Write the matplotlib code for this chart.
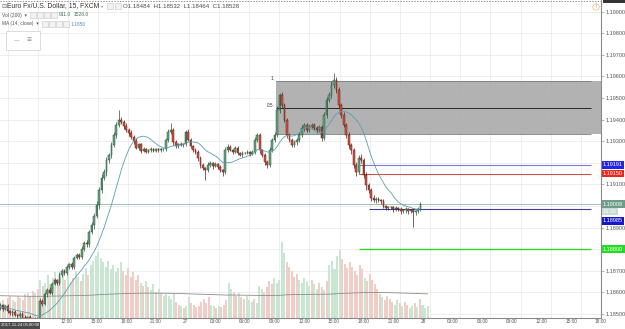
import matplotlib
matplotlib.use("Agg")
import matplotlib.pyplot as plt
import matplotlib.transforms as mtransforms
from matplotlib.patches import Rectangle
import numpy as np
import pandas as pd

plt.rcParams['font.family'] = ['Liberation Sans', 'DejaVu Sans']

# 15 min bars, EUR/USD (FXCM), Fri 24 Nov 05:00 -> Mon 27 Nov 23:45
open0 = 1.18484
closes = [
    1.18528, 1.18540, 1.18522, 1.18535, 1.18515, 1.18502, 1.18510, 1.18495, 1.18488, 1.18500,
    1.18482, 1.18475, 1.18486, 1.18470, 1.18462, 1.18478, 1.18470,
    1.18560, 1.18548, 1.18590, 1.18612, 1.18598, 1.18640, 1.18655, 1.18642, 1.18680, 1.18700,
    1.18690, 1.18715, 1.18730, 1.18718, 1.18760, 1.18772, 1.18765, 1.18800, 1.18830, 1.18822,
    1.18880, 1.18910, 1.18955,
    1.19005, 1.19074, 1.19130, 1.19157, 1.19213, 1.19236, 1.19282, 1.19329, 1.19375, 1.19398,
    1.19389, 1.19370, 1.19352, 1.19338, 1.19319,
    1.19300, 1.19270, 1.19285, 1.19255, 1.19262, 1.19250, 1.19258, 1.19262, 1.19255, 1.19262,
    1.19258, 1.19262, 1.19265,
    1.19306, 1.19343, 1.19352, 1.19296, 1.19278, 1.19287, 1.19282, 1.19287, 1.19343, 1.19306,
    1.19278, 1.19259, 1.19250, 1.19222, 1.19190, 1.19176, 1.19167, 1.19190, 1.19199, 1.19185,
    1.19194, 1.19181, 1.19167, 1.19157,
    1.19259, 1.19273, 1.19259, 1.19250, 1.19269, 1.19245, 1.19236, 1.19245, 1.19245, 1.19250,
    1.19241, 1.19250, 1.19306, 1.19329, 1.19259, 1.19236, 1.19204, 1.19190, 1.19259, 1.19306,
    1.19329,
    1.19444, 1.19514, 1.19468, 1.19398, 1.19329, 1.19306, 1.19282, 1.19296, 1.19306, 1.19329,
    1.19361, 1.19375, 1.19352, 1.19366, 1.19375, 1.19361, 1.19352, 1.19366, 1.19315,
    1.19421, 1.19491, 1.19514, 1.19560, 1.19583, 1.19537, 1.19468, 1.19421, 1.19375, 1.19329,
    1.19282, 1.19259, 1.19190, 1.19157, 1.19222, 1.19213, 1.19144, 1.19097, 1.19074, 1.19037,
    1.19028, 1.19032, 1.19028, 1.19023, 1.19000, 1.18991, 1.18995, 1.18995, 1.18986, 1.18991,
    1.18986, 1.18977, 1.18981, 1.18986, 1.18977, 1.18981, 1.18972, 1.18977, 1.18986, 1.19008,
]
# wick sizes in points (0.00001)
up_wick = [
    4, 10, 8, 6, 12, 5, 8, 10, 6, 9,
    7, 12, 5, 8, 10, 6, 9, 12, 8, 10,
    6, 14, 8, 10, 7, 12, 9, 6, 11, 8,
    10, 7, 12, 9, 14, 8, 11, 10, 15, 12,
    18, 14, 20, 12, 15, 10, 16, 12, 14, 46,
    12, 10, 15, 8, 12, 10, 14, 8, 6, 10,
    8, 6, 9, 5, 7, 6, 8, 5, 10, 12,
    32, 8, 10, 6, 8, 5, 10, 12, 8, 6,
    9, 7, 10, 8, 6, 12, 8, 6, 9, 7,
    8, 6, 14, 12, 8, 6, 10, 7, 6, 8,
    5, 7, 6, 8, 14, 10, 8, 6, 9, 7,
    12, 10, 14, 18, 10, 12, 8, 10, 7, 9,
    8, 10, 12, 14, 10, 8, 12, 9, 10, 8,
    10, 8, 14, 16, 12, 18, 33, 15, 12, 10,
    14, 10, 12, 8, 10, 12, 16, 18, 10, 12,
    8, 10, 12, 8, 10, 6, 8, 5, 7, 6,
    5, 7, 6, 8, 5, 7, 6, 5, 8, 6,
    7, 12,
]
low_wick = [
    20, 8, 10, 6, 12, 8, 10, 7, 12, 9,
    8, 10, 6, 12, 9, 8, 10, 7, 12, 8,
    10, 8, 12, 6, 9, 10, 7, 8, 12, 9,
    8, 10, 7, 12, 9, 8, 14, 10, 12, 15,
    12, 18, 14, 10, 16, 12, 14, 10, 12, 8,
    10, 12, 8, 14, 10, 12, 8, 10, 12, 6,
    7, 5, 8, 6, 5, 7, 6, 8, 10, 8,
    10, 12, 8, 10, 6, 8, 10, 7, 9, 8,
    10, 12, 14, 10, 47, 10, 8, 12, 6, 10,
    12, 20, 10, 8, 6, 10, 7, 9, 6, 8,
    6, 5, 8, 6, 8, 10, 12, 10, 14, 16,
    10, 8, 12, 10, 14, 12, 10, 12, 10, 8,
    10, 12, 8, 10, 12, 10, 8, 9, 10, 12,
    8, 14, 10, 12, 10, 14, 12, 16, 14, 12,
    10, 16, 14, 18, 12, 20, 10, 14, 16, 22,
    14, 12, 10, 14, 8, 12, 10, 8, 12, 10,
    12, 8, 10, 14, 10, 12, 16, 10, 70, 12,
    8, 10,
]
volumes = [
    911, 1100, 1250, 980, 1350, 1500, 1220, 1100, 1480, 1360, 1240, 1600, 1720, 1480, 1850, 1700, 1950,
    2600, 2200, 2400, 2900, 2300, 2700, 3100, 2500, 2800, 3300, 2600, 3000, 2400, 2700, 3200, 2800,
    2500, 3000, 3400, 2900, 3600, 3900, 4200,
    4500, 4100, 3800, 3500, 3900, 3300, 3600, 3100, 3400, 3800,
    3200, 2900, 3400, 2800, 3100, 2600, 2900, 2400, 2200, 2500, 2100, 1900, 2300, 1800, 2000, 1700, 1500, 1600,
    1500, 1300, 1600, 1100, 900, 800, 700, 850, 1400, 1000, 900, 750, 800, 1100, 1300, 1000, 1400, 900,
    800, 700, 850, 750, 900, 1200,
    2400, 2000, 1800, 1500, 1700, 1400, 1300, 1500, 1200, 1100, 1300, 1000, 2200, 2000, 1800, 2100,
    2500, 2300, 2700, 2400, 2600,
    5200, 4400, 3800, 3500, 3200, 2800, 3000, 2600, 2400, 2700, 2500, 2200, 2600, 2300, 2000, 2400,
    2100, 1900, 2500,
    3600, 3900, 3300, 4200, 4600, 4000, 3700, 3400, 3800, 3500, 3200, 2900, 3600, 3300, 2700, 2500,
    3000, 2600, 2300, 2000,
    1600, 1400, 1200, 1500, 1300, 1100, 900, 1200, 1000, 800, 1100, 900, 700, 850, 1000, 750,
    1300, 900, 650, 800,
]
vol_ma_first = 1528.0
vol_prior = 2050.0   # rough level of the bars leaving the 200-bar window

# drawn levels
fib_top, fib_mid, fib_bottom = 1.19579, 1.19456, 1.19333
level_blue, level_red, level_navy, level_green = 1.19191, 1.19150, 1.18985, 1.18800

n = len(closes)
assert len(up_wick) == n and len(low_wick) == n and len(volumes) == n

t_fri = pd.date_range("2017-11-24 05:00", "2017-11-24 21:45", freq="15min")
t_mon = pd.date_range("2017-11-26 22:00", "2017-11-27 23:45", freq="15min")
t_fut = pd.date_range("2017-11-28 00:00", periods=80, freq="15min")
times = t_fri.append(t_mon).append(t_fut)

closes = np.array(closes)
opens = np.concatenate([[open0], closes[:-1]])
highs = np.maximum(opens, closes) + np.array(up_wick) * 1e-5
lows = np.minimum(opens, closes) - np.array(low_wick) * 1e-5
idx = np.arange(n)
up = closes >= opens
ma14 = pd.Series(closes).rolling(14, min_periods=1).mean()
vols = np.array(volumes, dtype=float)
vol_ma = vol_ma_first + np.cumsum(vols - vol_prior) / 200.0

W, H = 625, 329
fig = plt.figure(figsize=(W / 100, H / 100), dpi=100)
fig.patch.set_facecolor('white')
rect = [0, 11 / H, 601 / W, 318 / H]
axv = fig.add_axes(rect)
ax = fig.add_axes(rect)
ax.patch.set_visible(False)

ymin, ymax = 1.18481, 1.19954
xmin, xmax = 0.95, 240.0
ax.set_xlim(xmin, xmax)
axv.set_xlim(xmin, xmax)
ax.set_ylim(ymin, ymax)
axv.set_ylim(0, 68 * 318)

# time ticks (the two morning labels sit under the crosshair date box)
tick_pos, tick_lab = [], []
for i, t in enumerate(times):
    if t.minute == 0 and t.hour % 3 == 0:
        tick_pos.append(i)
        if i < 20:
            tick_lab.append("")
        else:
            tick_lab.append(str(t.day) if t.hour == 0 else t.strftime("%H:%M"))
price_ticks = np.round(np.arange(1.185, 1.1996, 0.001), 5)

# grid (under everything)
grid_c = '#ebebeb'
for p in tick_pos:
    axv.axvline(p, color=grid_c, lw=0.6, zorder=0)
btr = mtransforms.blended_transform_factory(axv.transAxes, ax.transData)
for p in price_ticks:
    axv.plot([0, 1], [p, p], transform=btr, color=grid_c, lw=0.6, zorder=0)

# volume
vcol = np.where(up, '#c9e6d3', '#f1cdc8')
axv.bar(idx, vols, width=0.8, color=vcol, linewidth=0, zorder=1)
axv.plot(idx, vol_ma, color='#8c8c8c', lw=0.6, zorder=2)
axv.tick_params(left=False, bottom=False, labelleft=False, labelbottom=False)
for s in axv.spines.values():
    s.set_visible(False)

# fib retracement box
ax.add_patch(Rectangle((112.6, fib_bottom), 200, fib_top - fib_bottom,
                       facecolor='#aaaaaa', edgecolor='none', alpha=0.9, zorder=1))
ax.hlines([fib_top, fib_bottom], 112.6, xmax, color='#7c7c7c', lw=0.6, zorder=1.5)
ax.hlines(fib_mid, 112.6, xmax, color='#262626', lw=0.7, zorder=1.5)
ax.text(111.5, fib_top, "1", fontsize=3.4, color='#333333', ha='right', va='bottom', zorder=5)
ax.text(111.5, fib_mid, "0.5", fontsize=3.4, color='#333333', ha='right', va='bottom', zorder=5)

# candles
up_body, up_edge = '#6ba583', '#225437'
dn_body, dn_edge = '#d75442', '#5b1a13'
edge = np.where(up, up_edge, dn_edge)
ax.vlines(idx, lows, highs, colors=edge, lw=0.5, zorder=3)
body_h = np.maximum(np.abs(closes - opens), 0.000015)
ax.bar(idx, body_h, bottom=np.minimum(opens, closes), width=0.7,
       color=np.where(up, up_body, dn_body), edgecolor=edge, linewidth=0.35, zorder=4)
ax.plot(idx, ma14, color='#5c9db2', lw=0.6, zorder=5)

# horizontal levels
last = closes[-1]
ax.axhline(last, color='#8fb8a6', lw=0.6, zorder=2)
ax.hlines(level_blue, 146, xmax, color='#7b7bd9', lw=0.8, zorder=2)
ax.hlines(level_red, 146, xmax, color='#c9504a', lw=0.8, zorder=2)
ax.hlines(level_navy, 150, xmax, color='#3b3ba0', lw=0.8, zorder=2)
ax.hlines(level_green, 146, xmax, color='#2fd42f', lw=1.0, zorder=2)
ax.axhline(ymax - 0.00003, color='#666666', lw=0.5, ls=(0, (2, 2)), zorder=6)

# axes styling; scale labels hidden under the coloured price boxes are left blank
covered = {1.192, 1.190, 1.188}
ax.yaxis.tick_right()
ax.set_yticks(price_ticks)
ax.set_yticklabels(["" if round(p, 3) in covered else f"{p:.5f}" for p in price_ticks])
ax.tick_params(axis='y', length=2, width=0.5, color='#9a9a9a', labelsize=4,
               labelcolor='#555555', pad=1)
ax.set_xticks(tick_pos)
ax.set_xticklabels(tick_lab)
ax.tick_params(axis='x', length=0, labelsize=3.4, labelcolor='#555555', pad=0.6)
for k in ['top', 'left']:
    ax.spines[k].set_visible(False)
ax.spines['right'].set_color('#8a8a8a')
ax.spines['right'].set_linewidth(0.8)
ax.spines['bottom'].set_color('#8a8a8a')
ax.spines['bottom'].set_linewidth(0.8)

# price labels on the scale
ltr = mtransforms.blended_transform_factory(ax.transAxes, ax.transData)
def scale_label(price, text, bg, fg='white', dy=0):
    ax.annotate(text, xy=(1.0, price), xycoords=ltr, xytext=(1.5, dy), textcoords='offset points',
                fontsize=4, color=fg, ha='left', va='center', annotation_clip=False, zorder=10,
                bbox=dict(boxstyle='square,pad=0.25', fc=bg, ec='none'))

scale_label(level_blue, f"{level_blue:.5f}", '#2424e8')
scale_label(level_red, f"{level_red:.5f}", '#e8281d')
scale_label(last, f"{last:.5f}", '#6e9c88')
scale_label(last, "13:35", '#c6dbd1', dy=-5.2)
scale_label(level_navy, f"{level_navy:.5f}", '#1717c9', dy=-8.5)
scale_label(level_green, f"{level_green:.5f}", '#22dd22')

# header / legend
def px(x, y):
    return x / W, 1 - y / H

# crosshair price tag at the top of the scale (only its lower edge shows)
fig.patches.append(Rectangle(px(603, 3), 22 / W, 3 / H, transform=fig.transFigure,
                             fc='#333333', ec='none'))

fig.text(*px(1, 6), "⊟", fontsize=4.5, color='#777777', va='center')
fig.text(*px(7, 6), "Euro Fx/U.S. Dollar, 15, FXCM", fontsize=4.9, color='#333333', va='center')
fig.text(*px(101, 6), "▾", fontsize=3, color='#888888', va='center')
for bx in [107, 115]:
    fig.patches.append(Rectangle(px(bx, 9), 6 / W, 6 / H, transform=fig.transFigure,
                                 fc='#f2f2f2', ec='#c4c4c4', lw=0.4))
fig.text(*px(123, 6), "O1.18484  H1.18532  L1.18464  C1.18528", fontsize=4.4,
         color='#4a4a4a', va='center')
fig.text(*px(2, 15), "Vol (200)  ▾", fontsize=3.5, color='#555555', va='center')
fig.text(*px(2, 24), "MA (14, close)  ▾", fontsize=3.5, color='#555555', va='center')
for row_y, x0 in [(18, 30), (27, 42)]:
    for k in range(4):
        fig.patches.append(Rectangle(px(x0 + k * 7, row_y), 6 / W, 6 / H, transform=fig.transFigure,
                                     fc='#f2f2f2', ec='#c4c4c4', lw=0.4))
fig.text(*px(59, 15), "911.0", fontsize=3.6, color='#4b6f52', va='center')
fig.text(*px(74, 15), "1528.0", fontsize=3.6, color='#4b6f52', va='center')
fig.text(*px(71, 24), "1.1850", fontsize=3.6, color='#4f93a8', va='center')

# drawing toolbar widget
fig.patches.append(Rectangle(px(6, 50), 34 / W, 19 / H, transform=fig.transFigure,
                             fc='white', ec='#cfcfcf', lw=0.5))
fig.text(*px(14, 40.5), "—", fontsize=4, color='#888888', va='center')
fig.text(*px(27, 40.5), "≡", fontsize=6, color='#888888', va='center')

# alert icon
fig.text(*px(596, 7), "!", fontsize=3.5, color='#f08a24', ha='center', va='center',
         bbox=dict(boxstyle='circle,pad=0.15', fc='white', ec='#f0a050', lw=0.4))

# crosshair date label
fig.text(*px(1, 327.5), "2017-11-24 05:00:00", fontsize=3.1, color='white', va='bottom',
         bbox=dict(boxstyle='square,pad=0.3', fc='#4a4a4a', ec='none'))

fig.savefig("out.png", dpi=100, facecolor='white')
